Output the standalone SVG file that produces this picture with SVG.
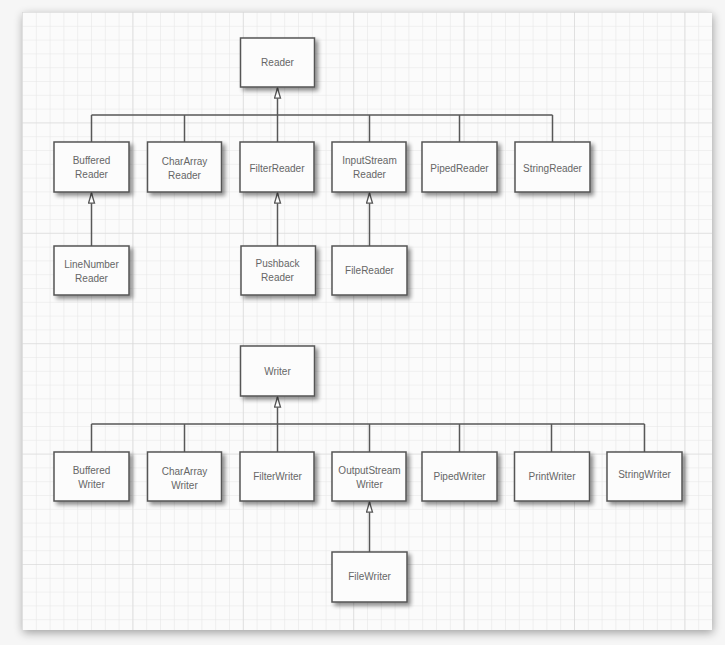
<svg xmlns="http://www.w3.org/2000/svg" width="725" height="645" viewBox="0 0 725 645">
<defs>
<style>
.box{fill:#fcfcfc;stroke:#555;stroke-width:1.5;filter:url(#sh)}
.lbl{font-family:"Liberation Sans",Arial,sans-serif;font-size:10px;fill:#666;text-anchor:middle}
.ln{fill:none;stroke:#585858;stroke-width:1.5}
</style>
<filter id="sh" x="-20%" y="-20%" width="150%" height="160%">
<feGaussianBlur in="SourceAlpha" stdDeviation="2.2"/>
<feOffset dx="3" dy="3" result="b"/>
<feComponentTransfer><feFuncA type="linear" slope="0.45"/></feComponentTransfer>
<feMerge><feMergeNode/><feMergeNode in="SourceGraphic"/></feMerge>
</filter>
<filter id="psh" x="-5%" y="-5%" width="110%" height="110%">
<feGaussianBlur in="SourceAlpha" stdDeviation="5"/>
<feOffset dx="1" dy="3" result="b"/>
<feComponentTransfer><feFuncA type="linear" slope="0.35"/></feComponentTransfer>
<feMerge><feMergeNode/><feMergeNode in="SourceGraphic"/></feMerge>
</filter>
<pattern id="minor" x="22" y="12" width="13.8" height="13.8" patternUnits="userSpaceOnUse">
<path d="M0 0H13.8M0 0V13.8" fill="none" stroke="#e6e6e6" stroke-width="1.2"/>
</pattern>
<pattern id="major" x="22" y="12" width="110.4" height="110.4" patternUnits="userSpaceOnUse">
<path d="M0 0H110.4M0 0V110.4" fill="none" stroke="#d6d6d6" stroke-width="1.2"/>
</pattern>
<marker id="tri" viewBox="0 0 12 8" refX="11.2" refY="4" markerWidth="12" markerHeight="8" markerUnits="userSpaceOnUse" orient="auto">
<path d="M11.2 4L1 1H1V7Z" fill="#fff" stroke="#585858" stroke-width="1.3" stroke-linejoin="miter"/>
</marker>
</defs>
<rect width="725" height="645" fill="#f6f6f6"/>
<g id="panel">
<rect x="22" y="12" width="690" height="618" fill="#fbfbfb" filter="url(#psh)"/>
<rect x="22" y="12" width="690" height="618" fill="url(#minor)"/>
<rect x="22" y="12" width="690" height="618" fill="url(#major)"/>
</g>
<g id="connectors">
<path class="ln" d="M91.5 115H552.5M91.5 115V142M184.5 115V142M369.5 115V142M459.5 115V142M552.5 115V142"/>
<path class="ln" d="M277.5 142V88" marker-end="url(#tri)"/>
<path class="ln" d="M91.5 246V193" marker-end="url(#tri)"/>
<path class="ln" d="M277.5 246V193" marker-end="url(#tri)"/>
<path class="ln" d="M369.5 246V193" marker-end="url(#tri)"/>
<path class="ln" d="M91.5 424H644.5M91.5 424V452M184.5 424V452M369.5 424V452M459.5 424V452M551.5 424V452M644.5 424V452"/>
<path class="ln" d="M277.5 452V397" marker-end="url(#tri)"/>
<path class="ln" d="M369.5 552V502" marker-end="url(#tri)"/>
</g>
<g id="Reader"><rect class="box" x="240.5" y="38" width="74" height="49"/><text class="lbl" x="277.5" y="66">Reader</text></g>
<g id="BufferedReader"><rect class="box" x="54" y="142" width="75" height="50"/><text class="lbl" x="91.5" y="164">Buffered</text><text class="lbl" x="91.5" y="178">Reader</text></g>
<g id="CharArrayReader"><rect class="box" x="147.5" y="142" width="74" height="50"/><text class="lbl" x="184.5" y="164.5">CharArray</text><text class="lbl" x="184.5" y="178.5">Reader</text></g>
<g id="FilterReader"><rect class="box" x="240" y="142" width="74" height="50"/><text class="lbl" x="277" y="172">FilterReader</text></g>
<g id="InputStreamReader"><rect class="box" x="332" y="142" width="74" height="50"/><text class="lbl" x="369.5" y="164">InputStream</text><text class="lbl" x="369.5" y="178">Reader</text></g>
<g id="PipedReader"><rect class="box" x="422" y="142" width="75" height="50"/><text class="lbl" x="459.5" y="172">PipedReader</text></g>
<g id="StringReader"><rect class="box" x="515" y="142" width="75" height="50"/><text class="lbl" x="552.5" y="172">StringReader</text></g>
<g id="LineNumberReader"><rect class="box" x="54" y="246" width="75" height="49"/><text class="lbl" x="91.5" y="268">LineNumber</text><text class="lbl" x="91.5" y="282">Reader</text></g>
<g id="PushbackReader"><rect class="box" x="241" y="246" width="74.5" height="49"/><text class="lbl" x="277.5" y="267">Pushback</text><text class="lbl" x="277.5" y="281">Reader</text></g>
<g id="FileReader"><rect class="box" x="332" y="246" width="75" height="49"/><text class="lbl" x="369.5" y="274">FileReader</text></g>
<g id="Writer"><rect class="box" x="240.5" y="346" width="74" height="50"/><text class="lbl" x="277.5" y="375">Writer</text></g>
<g id="BufferedWriter"><rect class="box" x="54" y="452" width="75" height="49"/><text class="lbl" x="91.5" y="474">Buffered</text><text class="lbl" x="91.5" y="488">Writer</text></g>
<g id="CharArrayWriter"><rect class="box" x="147.5" y="452" width="74" height="49"/><text class="lbl" x="184.5" y="475">CharArray</text><text class="lbl" x="184.5" y="489">Writer</text></g>
<g id="FilterWriter"><rect class="box" x="240" y="452" width="74" height="49"/><text class="lbl" x="277.5" y="480">FilterWriter</text></g>
<g id="OutputStreamWriter"><rect class="box" x="332" y="452" width="74" height="49"/><text class="lbl" x="369.5" y="474">OutputStream</text><text class="lbl" x="369.5" y="488">Writer</text></g>
<g id="PipedWriter"><rect class="box" x="422" y="452" width="75" height="49"/><text class="lbl" x="459.5" y="480">PipedWriter</text></g>
<g id="PrintWriter"><rect class="box" x="514.5" y="452" width="75" height="49"/><text class="lbl" x="552" y="480">PrintWriter</text></g>
<g id="StringWriter"><rect class="box" x="607" y="452" width="75" height="49"/><text class="lbl" x="644.5" y="478">StringWriter</text></g>
<g id="FileWriter"><rect class="box" x="332" y="552" width="75" height="50"/><text class="lbl" x="369.5" y="580">FileWriter</text></g>
</svg>
